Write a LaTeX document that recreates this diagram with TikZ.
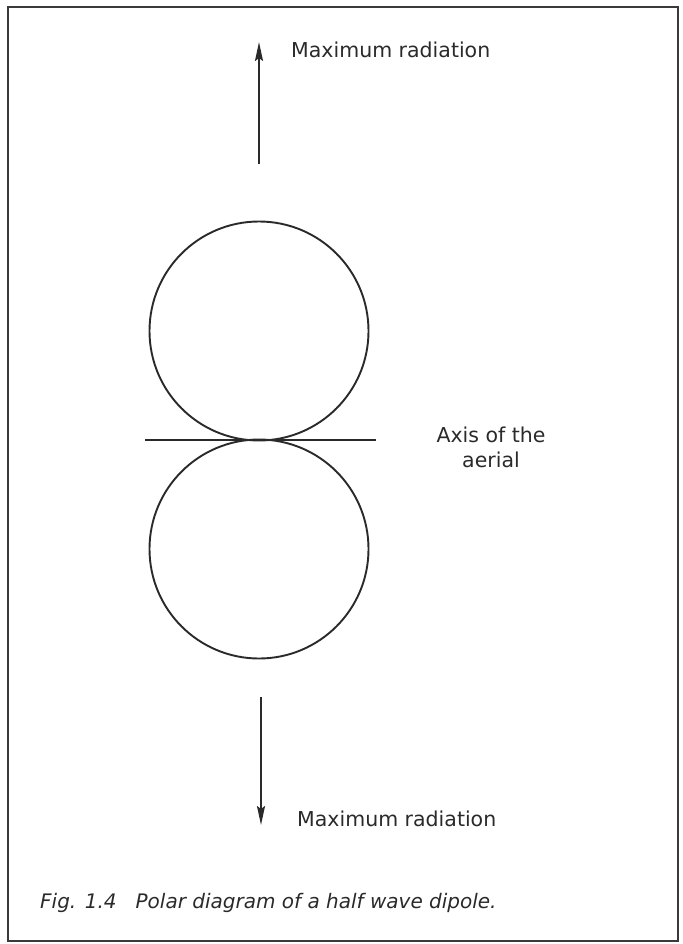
\documentclass[tikz,border=0pt]{standalone}
\usepackage{fontspec}
\setmainfont{DejaVu Sans}
\usetikzlibrary{arrows.meta}
\definecolor{inkcol}{HTML}{2A2A2A}
\definecolor{framecol}{HTML}{3A3A3A}
\tikzset{
  lobe/.style={circle, draw=inkcol, line width=1.9pt, minimum size=219pt, inner sep=0pt},
  ray/.style={draw=inkcol, line width=2pt, -{Stealth[length=19pt, width=8pt, inset=3pt]}},
  lbl/.style={font=\fontsize{20.5}{25}\selectfont, text=inkcol, inner sep=0pt},
  figcap/.style={font=\fontsize{20}{24}\selectfont\itshape, text=inkcol, inner sep=0pt},
}

\begin{document}
\begin{tikzpicture}[x=1pt, y=-1pt]
  \useasboundingbox (0,0) rectangle (682,944);
  \draw[framecol, line width=2.5pt] (8,7) rectangle (678,941);
  % the two lobes
  \node[lobe] (upper) at (259,331) {};
  \node[lobe] (lower) at (259,549) {};
  % aerial axis
  \coordinate (axL) at (145,440);
  \coordinate (axR) at (376,440);
  \draw[inkcol, line width=1.9pt] (axL) -- (axR);
  % radiation arrows
  \coordinate (topfoot) at (259,164);
  \coordinate (toptip)  at (259,42);
  \coordinate (botfoot) at (261,697);
  \coordinate (bottip)  at (261,825);
  \draw[ray] (topfoot) -- (toptip);
  \draw[ray] (botfoot) -- (bottip);
  % labels
  \node[lbl, anchor=base west] (maxtop) at (291,58) {Maximum radiation};
  \node[lbl, anchor=base west] (maxbot) at (297,826) {Maximum radiation};
  \node[lbl, align=center] (axis) at (491,447) {Axis of the\\aerial};
  \node[figcap, anchor=base west] (caption) at (40,908)
    {Fig. 1.4\ \ \ Polar diagram of a half wave dipole.};
\end{tikzpicture}
\end{document}
